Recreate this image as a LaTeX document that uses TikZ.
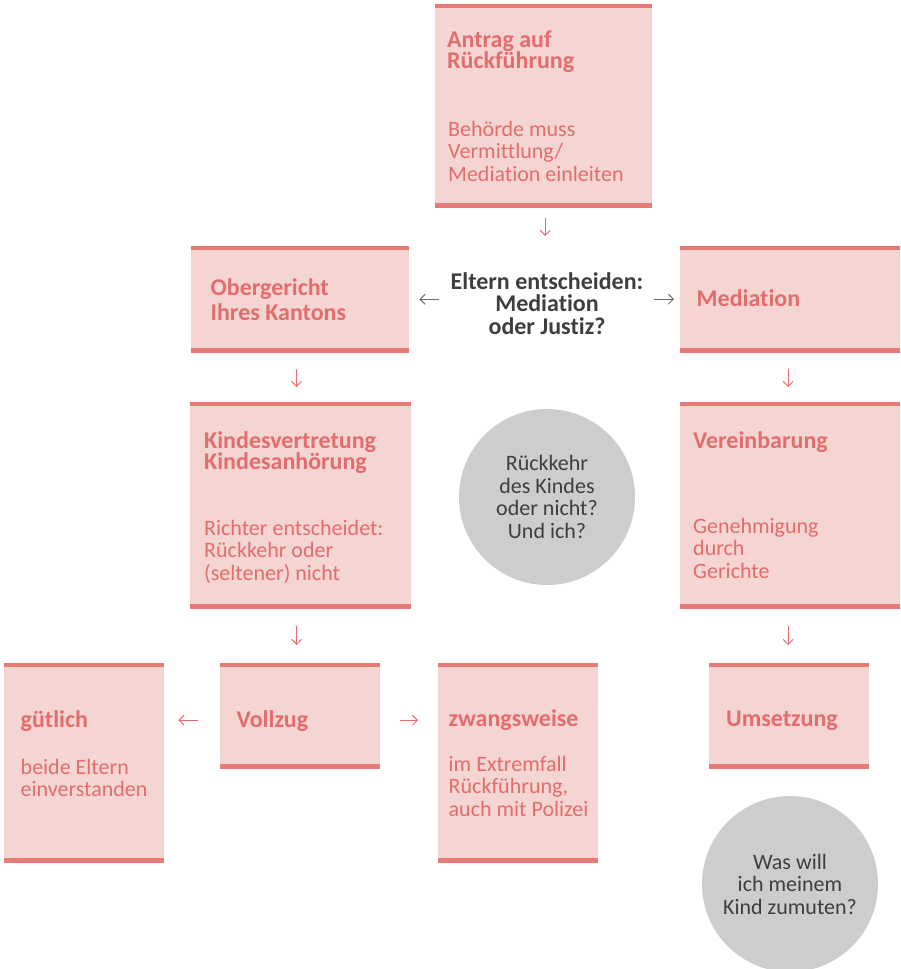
\documentclass[tikz,border=0pt]{standalone}
\usepackage{fontspec}
\setmainfont{Carlito}[Ligatures=NoCommon]
\usetikzlibrary{positioning, arrows.meta, calc}

\definecolor{boxfill}{HTML}{F5D5D2}
\definecolor{rulecol}{HTML}{E57A77}
\definecolor{salmon}{HTML}{E36C6D}
\definecolor{darkgrey}{HTML}{3E3E3E}
\definecolor{circgrey}{HTML}{CDCDCF}
\definecolor{arrgrey}{HTML}{6E6E6E}

\begin{document}
\begin{tikzpicture}[x=1pt, y=-1pt, >={Straight Barb[length=5pt, width=10pt]}]
    % Styles
    \tikzstyle{box} = [rectangle, fill=boxfill, inner sep=0pt, anchor=north west,
    path picture={\draw[rulecol, line width=8pt] (path picture bounding box.north west) -- (path picture bounding box.north east)
        (path picture bounding box.south west) -- (path picture bounding box.south east);}]
    \tikzstyle{title} = [anchor=base west, inner sep=0pt, text width=200pt, align=flush left,
    text=salmon, font=\bfseries\fontsize{24}{21.7}\selectfont]
    \tikzstyle{body} = [anchor=base west, inner sep=0pt, text width=200pt, align=flush left,
    text=salmon, font=\fontsize{22}{22.5}\selectfont]
    \tikzstyle{question} = [anchor=base, inner sep=0pt, text width=200pt, align=flush center,
    text=darkgrey, font=\bfseries\fontsize{24}{22.5}\selectfont]
    \tikzstyle{bubble} = [circle, fill=circgrey, minimum size=176pt, inner sep=0pt, align=flush center,
    text=darkgrey, font=\fontsize{22}{22.5}\selectfont]
    \tikzstyle{arr} = [->, salmon, line width=1pt]
    \tikzstyle{grarr} = [->, arrgrey, line width=1pt]

    \useasboundingbox (0,0) rectangle (900,969);
    \clip (0,0) rectangle (900,969);

    % Boxes
    \node [box, minimum width=217, minimum height=203] (antrag) at (435,4) {};
    \node [box, minimum width=218, minimum height=106] (obergericht) at (191,246) {};
    \node [box, minimum width=220, minimum height=106] (mediation) at (680,246) {};
    \node [box, minimum width=221, minimum height=206] (kindes) at (190,402) {};
    \node [box, minimum width=220, minimum height=206] (vereinbarung) at (680,402) {};
    \node [box, minimum width=160, minimum height=199] (guetlich) at (4,663) {};
    \node [box, minimum width=160, minimum height=105] (vollzug) at (220,663) {};
    \node [box, minimum width=160, minimum height=199] (zwang) at (438,663) {};
    \node [box, minimum width=160, minimum height=105] (umsetzung) at (709,663) {};

    % Bubbles
    \node [bubble] (rueckkehr) at (547,497) {Rückkehr\\des Kindes\\oder nicht?\\Und ich?};
    \node [bubble] (zumuten) at (790,884) {Was will\\ich meinem\\Kind zumuten?};

    % Labels
    \node [question] (entscheid) at (547,289) {Eltern entscheiden:\\Mediation\\oder Justiz?};
    \node [title] (antrag-t) at (447,47) {Antrag auf\\Rückführung};
    \node [body] (antrag-b) at (448,136) {Behörde muss\\Vermittlung/\\Mediation einleiten};
    \node [title] (obergericht-t) at (210.5,295) {Obergericht\\[3.3pt]Ihres Kantons};
    \node [title] (mediation-t) at (696.5,306) {Mediation};
    \node [title] (kindes-t) at (204,448) {Kindesvertretung\\Kindesanhörung};
    \node [body] (kindes-b) at (204,535) {Richter entscheidet:\\Rückkehr oder\\(seltener) nicht};
    \node [title] (vereinbarung-t) at (693,448) {Vereinbarung};
    \node [body] (vereinbarung-b) at (693,533) {Genehmigung\\durch\\Gerichte};
    \node [title] (guetlich-t) at (20.5,727) {gütlich};
    \node [body] (guetlich-b) at (20.5,774) {beide Eltern\\einverstanden};
    \node [title] (vollzug-t) at (236.5,727) {Vollzug};
    \node [title] (zwang-t) at (448.5,726) {zwangsweise};
    \node [body] (zwang-b) at (448.5,771) {im Extremfall\\Rückführung,\\auch mit Polizei};
    \node [title] (umsetzung-t) at (726,726) {Umsetzung};

    % Arrows
    \draw [arr, shorten <=11pt, shorten >=36pt] ([xshift=1.5pt]antrag.south) -- ([xshift=1.5pt]antrag.south |- entscheid.north);
    \draw [grarr, shorten <=8pt, shorten >=10pt] (entscheid.west |- obergericht.east) -- (obergericht.east);
    \draw [grarr, shorten <=7pt, shorten >=6pt] (entscheid.east |- mediation.west) -- (mediation.west);
    \draw [arr, shorten <=17pt, shorten >=15pt] ([xshift=-4pt]obergericht.south) -- ([xshift=-4pt]kindes.north);
    \draw [arr, shorten <=17pt, shorten >=15pt] ([xshift=-2pt]mediation.south) -- ([xshift=-2pt]vereinbarung.north);
    \draw [arr, shorten <=18pt, shorten >=18pt] ([xshift=-4pt]kindes.south) -- ([xshift=-4pt]kindes.south |- vollzug.north);
    \draw [arr, shorten <=18pt, shorten >=18pt] ([xshift=-2pt]vereinbarung.south) -- ([xshift=-2pt]vereinbarung.south |- umsetzung.north);
    \draw [arr, shorten <=22pt, shorten >=14pt] ([yshift=-4.5pt]vollzug.west) -- ([yshift=-4.5pt]vollzug.west -| guetlich.east);
    \draw [arr, shorten <=20pt, shorten >=20pt] ([yshift=-4.5pt]vollzug.east) -- ([yshift=-4.5pt]vollzug.east -| zwang.west);
\end{tikzpicture}
\end{document}
